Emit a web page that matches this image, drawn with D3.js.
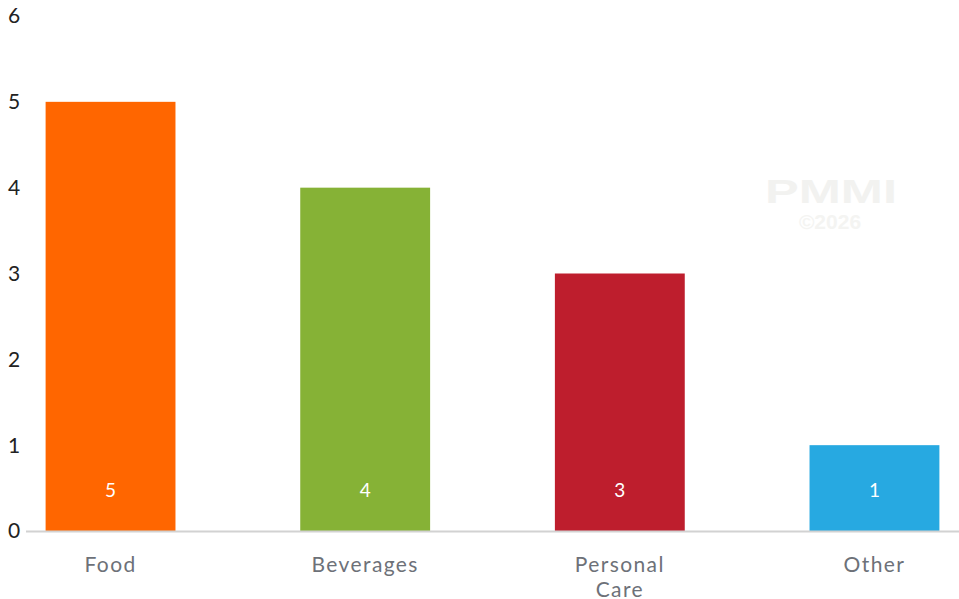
<!DOCTYPE html>
<html>
<head>
<meta charset="utf-8">
<script src="https://cdn.jsdelivr.net/npm/d3@7"></script>
<style>
  html, body { margin: 0; padding: 0; background: #fff; }
  svg { display: block; }
</style>
</head>
<body>
<svg id="chart" width="959" height="599"></svg>
<script>
// Packaging segments and their counts
const categories = ["Food", "Beverages", "Personal Care", "Other"];
const values = [5, 4, 3, 1];
const colors = ["#ff6600", "#86b236", "#be1e2d", "#27a9e1"];
const yTicks = [0, 1, 2, 3, 4, 5, 6];

const svg = d3.select("#chart");
const W = 959, H = 599;
const baseY = 531, topY = 16;
const FONT = "Lato, 'Open Sans', sans-serif";

const x = d3.scaleBand()
  .domain(categories)
  .range([26, 959])
  .paddingInner(0.49)
  .paddingOuter(0.077);

const y = d3.scaleLinear().domain([0, 6]).range([baseY, topY]);

// watermark
svg.append("text")
  .attr("x", 831).attr("y", 203)
  .attr("text-anchor", "middle")
  .style("font-family", "'Liberation Sans', Arial, sans-serif")
  .style("font-weight", "bold")
  .style("font-size", "33px")
  .attr("fill", "#f2f2f0")
  .attr("textLength", 132)
  .attr("lengthAdjust", "spacingAndGlyphs")
  .text("PMMI");
svg.append("text")
  .attr("x", 830).attr("y", 229)
  .attr("text-anchor", "middle")
  .style("font-family", "'Liberation Sans', Arial, sans-serif")
  .style("font-weight", "bold")
  .style("font-size", "21px")
  .attr("fill", "#f4f4f2")
  .text("©2026");

// y tick labels
svg.append("g").selectAll("text")
  .data(yTicks)
  .join("text")
  .attr("x", 14)
  .attr("y", d => y(d))
  .attr("dy", "0.35em")
  .attr("text-anchor", "middle")
  .style("font-family", FONT)
  .style("font-size", "21px")
  .attr("fill", "#222")
  .text(d => d);

// bars
svg.append("g").selectAll("rect")
  .data(values)
  .join("rect")
  .attr("x", (d, i) => x(categories[i]))
  .attr("y", d => y(d))
  .attr("width", x.bandwidth())
  .attr("height", d => y(0) - y(d))
  .attr("fill", (d, i) => colors[i]);

// value labels inside bars
svg.append("g").selectAll("text")
  .data(values)
  .join("text")
  .attr("x", (d, i) => x(categories[i]) + x.bandwidth() / 2)
  .attr("y", 490)
  .attr("dy", "0.35em")
  .attr("text-anchor", "middle")
  .style("font-family", FONT)
  .style("font-size", "19px")
  .attr("fill", "#fff")
  .text(d => d);

// baseline
svg.append("line")
  .attr("x1", 26).attr("x2", W)
  .attr("y1", y(0) + 0.5).attr("y2", y(0) + 0.5)
  .attr("stroke", "#d2d2d2")
  .attr("stroke-width", 2);

// category labels, wrapped on spaces for long names
const xl = svg.append("g").selectAll("text")
  .data(categories)
  .join("text")
  .attr("x", d => x(d) + x.bandwidth() / 2)
  .attr("y", 565)
  .attr("text-anchor", "middle")
  .style("font-family", FONT)
  .style("font-size", "21px")
  .style("letter-spacing", "1.4px")
  .attr("fill", "#6d7178");
xl.each(function(d) {
  const words = d.length > 10 ? d.split(" ") : [d];
  const t = d3.select(this);
  words.forEach((w, i) => {
    t.append("tspan")
      .attr("x", x(d) + x.bandwidth() / 2)
      .attr("dy", i === 0 ? "0.35em" : "1.15em")
      .text(w);
  });
});
</script>
</body>
</html>
